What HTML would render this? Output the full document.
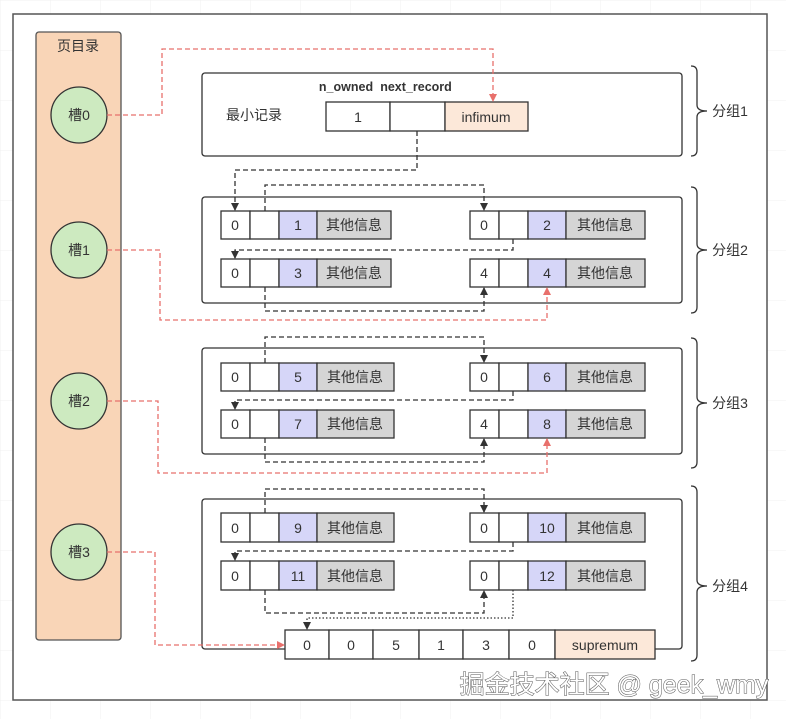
<!DOCTYPE html>
<html><head><meta charset="utf-8"><style>
body{margin:0;background:#fff}
svg{display:block}
text{font-family:"Liberation Sans","Noto Sans CJK SC",sans-serif;fill:#333;text-anchor:middle;dominant-baseline:central}
.c{stroke:#333;stroke-width:1.3}
.w{fill:#fff}.b{fill:#d6d6f8}.g{fill:#d5d5d5}.o{fill:#fce8d9}
.k{fill:none;stroke:#333;stroke-width:1.3;stroke-dasharray:5 3}
.r{fill:none;stroke:#e8706c;stroke-width:1.3;stroke-dasharray:5 3}
.d{fill:none;stroke:#333;stroke-width:1.3;stroke-dasharray:1.5 2}
.grp{fill:#fff;stroke:#333;stroke-width:1.3}
.br{fill:none;stroke:#333;stroke-width:1.3}
</style></head><body>
<svg width="786" height="719" viewBox="0 0 786 719" xmlns="http://www.w3.org/2000/svg">
<defs>
<pattern id="grid" width="50" height="50" patternUnits="userSpaceOnUse"><path d="M50 0H0V50" fill="none" stroke="#f0f0f0"/></pattern>
<marker id="ak" markerWidth="8" markerHeight="8" refX="7" refY="4" orient="auto" markerUnits="userSpaceOnUse"><path d="M0 0L8 4L0 8Z" fill="#333"/></marker>
<marker id="ar" markerWidth="8" markerHeight="8" refX="7" refY="4" orient="auto" markerUnits="userSpaceOnUse"><path d="M0 0L8 4L0 8Z" fill="#e8706c"/></marker>
</defs>
<rect width="786" height="719" fill="url(#grid)"/>
<rect x="13" y="14" width="754" height="686" fill="#fff" stroke="#555" stroke-width="1.5"/>

<rect x="36" y="32" width="85" height="608" rx="3" fill="#f9d5b7" stroke="#555" stroke-width="1.3"/>
<text x="78" y="46" font-size="14">页目录</text>
<g fill="#cdeac0" stroke="#333" stroke-width="1.3">
<circle cx="79" cy="115" r="28"/><circle cx="79" cy="250" r="28"/><circle cx="79" cy="401" r="28"/><circle cx="79" cy="552" r="28"/></g>
<text x="79" y="115" font-size="14">槽0</text><text x="79" y="250" font-size="14">槽1</text><text x="79" y="401" font-size="14">槽2</text><text x="79" y="552" font-size="14">槽3</text>

<rect class="grp" x="202" y="73" width="480" height="83" rx="3"/>
<rect class="grp" x="202" y="197" width="480" height="106" rx="3"/>
<rect class="grp" x="202" y="348" width="480" height="106" rx="3"/>
<rect class="grp" x="202" y="499" width="480" height="150" rx="3"/>

<path class="br" d="M691 66q6 0 6 6v33q0 6 10 6q-10 0 -10 6v33q0 6 -6 6"/>
<text x="730" y="111" font-size="14">分组1</text>
<path class="br" d="M691 187q6 0 6 6v51q0 6 10 6q-10 0 -10 6v51q0 6 -6 6"/>
<text x="730" y="250" font-size="14">分组2</text>
<path class="br" d="M691 338q6 0 6 6v53q0 6 10 6q-10 0 -10 6v53q0 6 -6 6"/>
<text x="730" y="403" font-size="14">分组3</text>
<path class="br" d="M691 486q6 0 6 6v88q0 6 10 6q-10 0 -10 6v63q0 6 -6 6"/>
<text x="730" y="586" font-size="14">分组4</text>

<text x="346" y="87" font-size="12.5" font-weight="bold">n_owned</text>
<text x="416" y="87" font-size="12.5" font-weight="bold">next_record</text>
<text x="254" y="115" font-size="14">最小记录</text>
<rect class="c w" x="326" y="102" width="64" height="29"/><text x="358" y="117" font-size="14">1</text>
<rect class="c w" x="390" y="102" width="55" height="29"/>
<rect class="c o" x="445" y="102" width="83" height="29"/><text x="486" y="117" font-size="14">infimum</text>

<g font-size="14">
<rect class="c w" x="221" y="211" width="29" height="28"/><rect class="c w" x="250" y="211" width="29" height="28"/><rect class="c b" x="279" y="211" width="38" height="28"/><rect class="c g" x="317" y="211" width="74" height="28"/>
<text x="235" y="225">0</text><text x="298" y="225">1</text><text x="354" y="225">其他信息</text>
<rect class="c w" x="470" y="211" width="29" height="28"/><rect class="c w" x="499" y="211" width="29" height="28"/><rect class="c b" x="528" y="211" width="38" height="28"/><rect class="c g" x="566" y="211" width="79" height="28"/>
<text x="484" y="225">0</text><text x="547" y="225">2</text><text x="605" y="225">其他信息</text>
<rect class="c w" x="221" y="259" width="29" height="28"/><rect class="c w" x="250" y="259" width="29" height="28"/><rect class="c b" x="279" y="259" width="38" height="28"/><rect class="c g" x="317" y="259" width="74" height="28"/>
<text x="235" y="273">0</text><text x="298" y="273">3</text><text x="354" y="273">其他信息</text>
<rect class="c w" x="470" y="259" width="29" height="28"/><rect class="c w" x="499" y="259" width="29" height="28"/><rect class="c b" x="528" y="259" width="38" height="28"/><rect class="c g" x="566" y="259" width="79" height="28"/>
<text x="484" y="273">4</text><text x="547" y="273">4</text><text x="605" y="273">其他信息</text>
<rect class="c w" x="221" y="363" width="29" height="28"/><rect class="c w" x="250" y="363" width="29" height="28"/><rect class="c b" x="279" y="363" width="38" height="28"/><rect class="c g" x="317" y="363" width="77" height="28"/>
<text x="235" y="377">0</text><text x="298" y="377">5</text><text x="355" y="377">其他信息</text>
<rect class="c w" x="470" y="363" width="29" height="28"/><rect class="c w" x="499" y="363" width="29" height="28"/><rect class="c b" x="528" y="363" width="38" height="28"/><rect class="c g" x="566" y="363" width="79" height="28"/>
<text x="484" y="377">0</text><text x="547" y="377">6</text><text x="605" y="377">其他信息</text>
<rect class="c w" x="221" y="410" width="29" height="28"/><rect class="c w" x="250" y="410" width="29" height="28"/><rect class="c b" x="279" y="410" width="38" height="28"/><rect class="c g" x="317" y="410" width="77" height="28"/>
<text x="235" y="424">0</text><text x="298" y="424">7</text><text x="355" y="424">其他信息</text>
<rect class="c w" x="470" y="410" width="29" height="28"/><rect class="c w" x="499" y="410" width="29" height="28"/><rect class="c b" x="528" y="410" width="38" height="28"/><rect class="c g" x="566" y="410" width="79" height="28"/>
<text x="484" y="424">4</text><text x="547" y="424">8</text><text x="605" y="424">其他信息</text>
<rect class="c w" x="221" y="513" width="29" height="29"/><rect class="c w" x="250" y="513" width="29" height="29"/><rect class="c b" x="279" y="513" width="38" height="29"/><rect class="c g" x="317" y="513" width="77" height="29"/>
<text x="235" y="528">0</text><text x="298" y="528">9</text><text x="355" y="528">其他信息</text>
<rect class="c w" x="470" y="513" width="29" height="29"/><rect class="c w" x="499" y="513" width="29" height="29"/><rect class="c b" x="528" y="513" width="38" height="29"/><rect class="c g" x="566" y="513" width="79" height="29"/>
<text x="484" y="528">0</text><text x="547" y="528">10</text><text x="605" y="528">其他信息</text>
<rect class="c w" x="221" y="561" width="29" height="29"/><rect class="c w" x="250" y="561" width="29" height="29"/><rect class="c b" x="279" y="561" width="38" height="29"/><rect class="c g" x="317" y="561" width="77" height="29"/>
<text x="235" y="576">0</text><text x="298" y="576">11</text><text x="355" y="576">其他信息</text>
<rect class="c w" x="470" y="561" width="29" height="29"/><rect class="c w" x="499" y="561" width="29" height="29"/><rect class="c b" x="528" y="561" width="38" height="29"/><rect class="c g" x="566" y="561" width="79" height="29"/>
<text x="484" y="576">0</text><text x="547" y="576">12</text><text x="605" y="576">其他信息</text>
<rect class="c w" x="285" y="630" width="44" height="29"/><rect class="c w" x="329" y="630" width="44" height="29"/><rect class="c w" x="373" y="630" width="46" height="29"/><rect class="c w" x="419" y="630" width="44" height="29"/><rect class="c w" x="463" y="630" width="46" height="29"/><rect class="c w" x="509" y="630" width="46" height="29"/><rect class="c o" x="555" y="630" width="100" height="29"/>
<text x="307" y="645">0</text><text x="351" y="645">0</text><text x="396" y="645">5</text><text x="441" y="645">1</text><text x="486" y="645">3</text><text x="532" y="645">0</text><text x="605" y="645">supremum</text>
</g>

<path class="k" d="M417 131V170H235V210" marker-end="url(#ak)"/>
<path class="k" d="M265 211V185H484V210" marker-end="url(#ak)"/>
<path class="k" d="M513 239V250H235V258" marker-end="url(#ak)"/>
<path class="k" d="M265 287V311H484V288" marker-end="url(#ak)"/>
<path class="k" d="M265 363V337H484V362" marker-end="url(#ak)"/>
<path class="k" d="M513 391V400H235V409" marker-end="url(#ak)"/>
<path class="k" d="M265 438V462H484V439" marker-end="url(#ak)"/>
<path class="k" d="M265 513V489H484V512" marker-end="url(#ak)"/>
<path class="k" d="M513 542V551H235V560" marker-end="url(#ak)"/>
<path class="k" d="M265 590V613H484V591" marker-end="url(#ak)"/>
<path class="d" d="M513 590V618H307V629" marker-end="url(#ak)"/>

<path class="r" d="M107 115H162V49H493V101" marker-end="url(#ar)"/>
<path class="r" d="M107 250H160V320H547V288" marker-end="url(#ar)"/>
<path class="r" d="M107 401H158V473H547V439" marker-end="url(#ar)"/>
<path class="r" d="M107 552H155V645H284" marker-end="url(#ar)"/>

<text x="614" y="685" font-size="25" style="fill:#fff;stroke:#555;stroke-width:1;paint-order:stroke">掘金技术社区 @ geek_wmy</text>
</svg>
</body></html>
